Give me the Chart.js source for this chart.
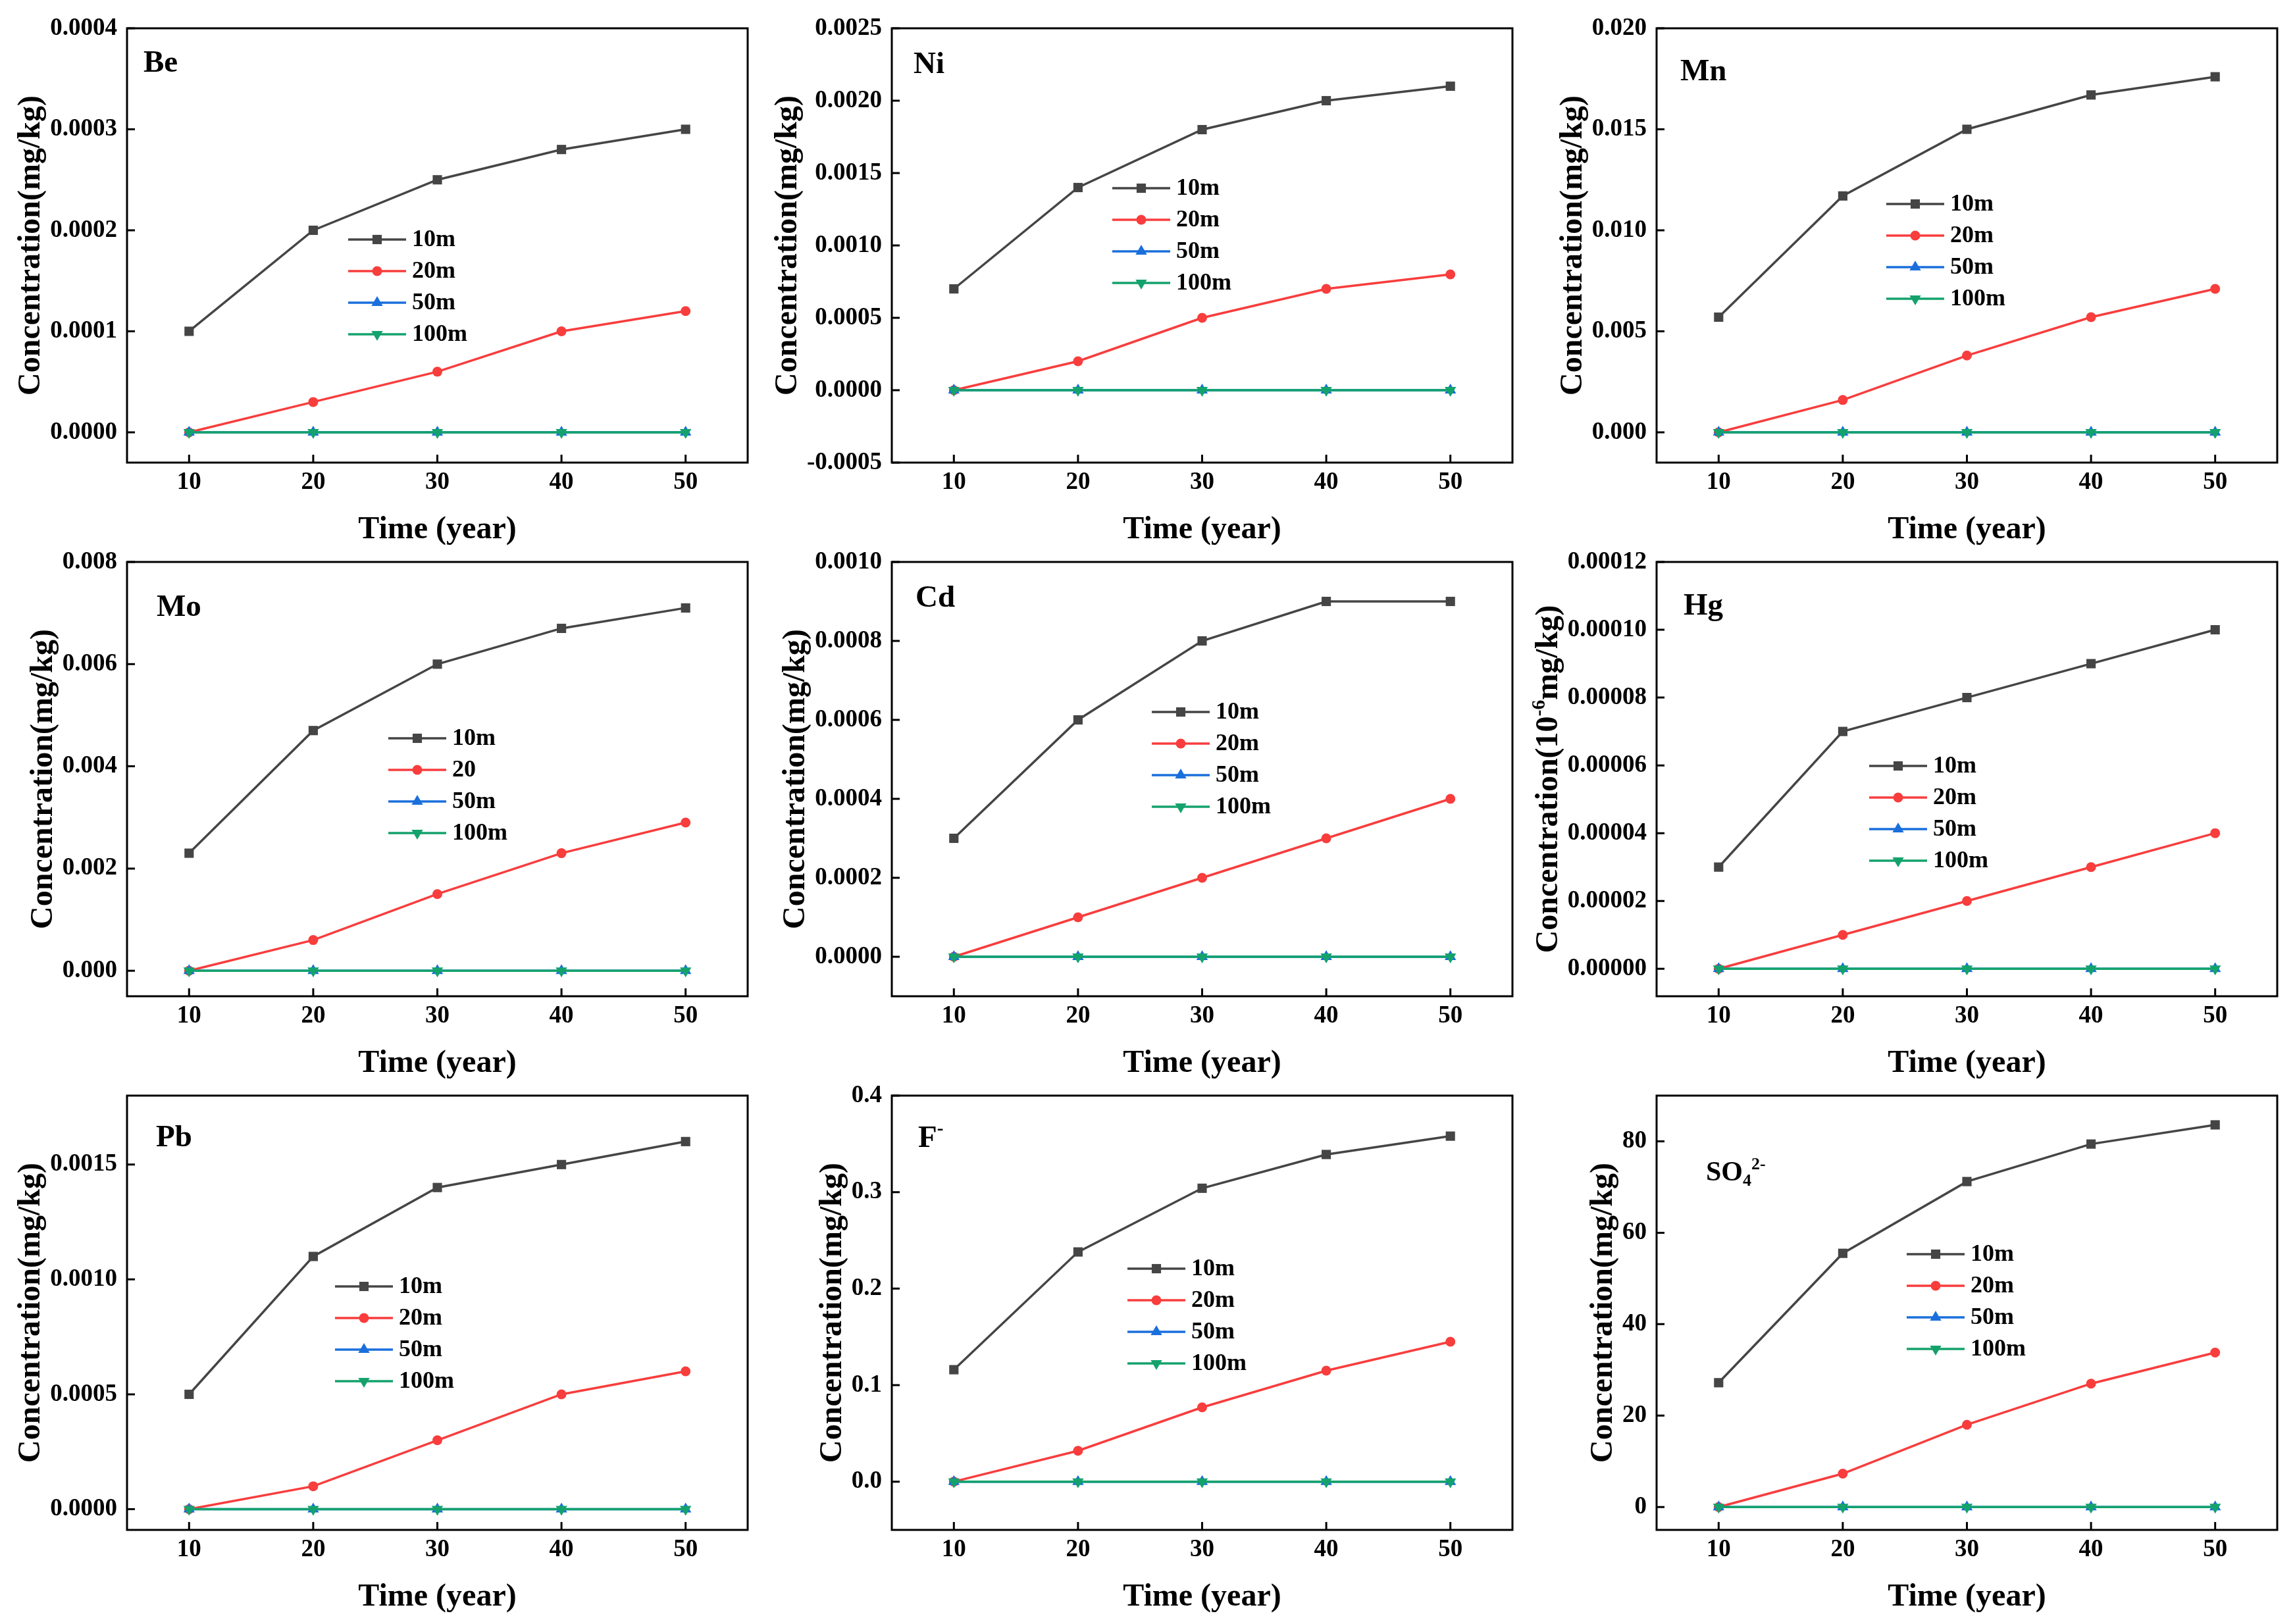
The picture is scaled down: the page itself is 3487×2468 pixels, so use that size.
<!DOCTYPE html>
<html>
<head>
<meta charset="utf-8">
<script src="https://cdn.jsdelivr.net/npm/chart.js@4.4.1/dist/chart.umd.min.js"></script>
<style>
  html, body { margin: 0; padding: 0; background: #fff; }
  #page { position: relative; width: 3487px; height: 2468px; overflow: hidden; }
  .panel { position: absolute; width: 1160px; height: 840px; }
</style>
</head>
<body>
<div id="page"></div>
<script>
// x values and labels
const years = [10, 20, 30, 40, 50];
const xTickLabels = ['10', '20', '30', '40', '50'];
const depthNames = ['10m', '20m', '50m', '100m'];
const depthNamesMo = ['10m', '20', '50m', '100m'];

// Be
const be10m = [0.0001, 0.0002, 0.00025, 0.00028, 0.0003];
const be20m = [0, 0.00003, 0.00006, 0.0001, 0.00012];
const be50m = [0, 0, 0, 0, 0];
const be100m = [0, 0, 0, 0, 0];
const beTicks = ['0.0000', '0.0001', '0.0002', '0.0003', '0.0004'];

// Ni
const ni10m = [0.0007, 0.0014, 0.0018, 0.0020, 0.0021];
const ni20m = [0, 0.0002, 0.0005, 0.0007, 0.0008];
const ni50m = [0, 0, 0, 0, 0];
const ni100m = [0, 0, 0, 0, 0];
const niTicks = ['-0.0005', '0.0000', '0.0005', '0.0010', '0.0015', '0.0020', '0.0025'];

// Mn
const mn10m = [0.0057, 0.0117, 0.0150, 0.0167, 0.0176];
const mn20m = [0, 0.0016, 0.0038, 0.0057, 0.0071];
const mn50m = [0, 0, 0, 0, 0];
const mn100m = [0, 0, 0, 0, 0];
const mnTicks = ['0.000', '0.005', '0.010', '0.015', '0.020'];

// Mo
const mo10m = [0.0023, 0.0047, 0.0060, 0.0067, 0.0071];
const mo20m = [0, 0.0006, 0.0015, 0.0023, 0.0029];
const mo50m = [0, 0, 0, 0, 0];
const mo100m = [0, 0, 0, 0, 0];
const moTicks = ['0.000', '0.002', '0.004', '0.006', '0.008'];

// Cd
const cd10m = [0.0003, 0.0006, 0.0008, 0.0009, 0.0009];
const cd20m = [0, 0.0001, 0.0002, 0.0003, 0.0004];
const cd50m = [0, 0, 0, 0, 0];
const cd100m = [0, 0, 0, 0, 0];
const cdTicks = ['0.0000', '0.0002', '0.0004', '0.0006', '0.0008', '0.0010'];

// Hg
const hg10m = [0.00003, 0.00007, 0.00008, 0.00009, 0.0001];
const hg20m = [0, 0.00001, 0.00002, 0.00003, 0.00004];
const hg50m = [0, 0, 0, 0, 0];
const hg100m = [0, 0, 0, 0, 0];
const hgTicks = ['0.00000', '0.00002', '0.00004', '0.00006', '0.00008', '0.00010', '0.00012'];

// Pb
const pb10m = [0.0005, 0.0011, 0.0014, 0.0015, 0.0016];
const pb20m = [0, 0.0001, 0.0003, 0.0005, 0.0006];
const pb50m = [0, 0, 0, 0, 0];
const pb100m = [0, 0, 0, 0, 0];
const pbTicks = ['0.0000', '0.0005', '0.0010', '0.0015'];

// F-
const f10m = [0.116, 0.238, 0.304, 0.339, 0.358];
const f20m = [0, 0.032, 0.077, 0.115, 0.145];
const f50m = [0, 0, 0, 0, 0];
const f100m = [0, 0, 0, 0, 0];
const fTicks = ['0.0', '0.1', '0.2', '0.3', '0.4'];

// SO4 2-
const so410m = [27.2, 55.5, 71.2, 79.4, 83.6];
const so420m = [0, 7.3, 18.0, 27.0, 33.8];
const so450m = [0, 0, 0, 0, 0];
const so4100m = [0, 0, 0, 0, 0];
const so4Ticks = ['0', '20', '40', '60', '80'];

const FONT = "'Liberation Serif', 'Times New Roman', serif";
const yTitleMg = [['Concentration(mg/kg)', '']];
const yTitleHg = [['Concentration(10', ''], ['-6', 'sup'], ['mg/kg)', '']];

// plot area: left/top in page px, size 943 x 660
const colLeft = [193, 1355, 2517];
const rowTop = [43, 854, 1665];

const panels = [
  { col: 0, row: 0, label: [['Be', '']], labelPos: [25, 50], series: [be10m, be20m, be50m, be100m], names: depthNames, ticks: beTicks, min: -0.00003, max: 0.0004, legend: [336, 321], yTitle: yTitleMg },
  { col: 1, row: 0, label: [['Ni', '']], labelPos: [33, 52], series: [ni10m, ni20m, ni50m, ni100m], names: depthNames, ticks: niTicks, min: -0.0005, max: 0.0025, legend: [335, 243], yTitle: yTitleMg },
  { col: 2, row: 0, label: [['Mn', '']], labelPos: [36, 63], series: [mn10m, mn20m, mn50m, mn100m], names: depthNames, ticks: mnTicks, min: -0.0015, max: 0.020, legend: [349, 267], yTitle: yTitleMg },
  { col: 0, row: 1, label: [['Mo', '']], labelPos: [45, 66], series: [mo10m, mo20m, mo50m, mo100m], names: depthNamesMo, ticks: moTicks, min: -0.0005, max: 0.008, legend: [397, 268], yTitle: yTitleMg },
  { col: 1, row: 1, label: [['Cd', '']], labelPos: [36, 52], series: [cd10m, cd20m, cd50m, cd100m], names: depthNames, ticks: cdTicks, min: -0.0001, max: 0.0010, legend: [395, 228], yTitle: yTitleMg },
  { col: 2, row: 1, label: [['Hg', '']], labelPos: [41, 64], series: [hg10m, hg20m, hg50m, hg100m], names: depthNames, ticks: hgTicks, min: -0.0000081, max: 0.00012, legend: [323, 310], yTitle: yTitleHg },
  { col: 0, row: 2, label: [['Pb', '']], labelPos: [44, 61], series: [pb10m, pb20m, pb50m, pb100m], names: depthNames, ticks: pbTicks, min: -0.00009, max: 0.0018, legend: [316, 290], yTitle: yTitleMg },
  { col: 1, row: 2, label: [['F', ''], ['-', 'sup']], labelPos: [40, 62], series: [f10m, f20m, f50m, f100m], names: depthNames, ticks: fTicks, min: -0.05, max: 0.4, legend: [358, 263], yTitle: yTitleMg },
  { col: 2, row: 2, label: [['SO', ''], ['4', 'sub'], ['2-', 'sup']], labelPos: [75, 115], labelSize: 42, series: [so410m, so420m, so450m, so4100m], names: depthNames, ticks: so4Ticks, min: -5, max: 90, legend: [380, 241], yTitle: yTitleMg },
];

const seriesStyle = [
  { color: '#454545', point: 'rect', radius: 10, rotation: 0 },
  { color: '#f83d3d', point: 'circle', radius: 7.5, rotation: 0 },
  { color: '#1a6fdc', point: 'triangle', radius: 10, rotation: 0 },
  { color: '#14a26c', point: 'triangle', radius: 10, rotation: 180 },
];

// text with simple sub/superscripts
function richWidth(ctx, parts, size) {
  let w = 0;
  parts.forEach(([t, kind]) => {
    const s = kind ? size * 0.62 : size;
    ctx.font = 'bold ' + s + 'px ' + FONT;
    w += ctx.measureText(t).width;
  });
  return w;
}

function drawRich(ctx, parts, x, baseline, size) {
  let cx = x;
  parts.forEach(([t, kind]) => {
    const s = kind ? size * 0.62 : size;
    ctx.font = 'bold ' + s + 'px ' + FONT;
    let dy = 0;
    if (kind === 'sup') dy = -size * 0.4;
    if (kind === 'sub') dy = size * 0.2;
    ctx.fillText(t, cx, baseline + dy);
    cx += ctx.measureText(t).width;
  });
}

function drawMarker(ctx, style, x, y) {
  const r = style.radius;
  ctx.fillStyle = style.color;
  ctx.beginPath();
  if (style.point === 'rect') {
    const h = r * Math.SQRT1_2;
    ctx.rect(x - h, y - h, 2 * h, 2 * h);
  } else if (style.point === 'circle') {
    ctx.arc(x, y, r, 0, Math.PI * 2);
  } else {
    const rad = style.rotation * Math.PI / 180;
    for (let k = 0; k < 3; k++) {
      const a = rad + k * 2 * Math.PI / 3;
      const px = x + Math.sin(a) * r, py = y - Math.cos(a) * r;
      if (k === 0) ctx.moveTo(px, py); else ctx.lineTo(px, py);
    }
    ctx.closePath();
  }
  ctx.fill();
}

const decoPlugin = {
  id: 'deco',
  afterDraw(chart, args, opts) {
    const ctx = chart.ctx;
    const a = chart.chartArea;
    const xs = chart.scales.x, ys = chart.scales.y;
    ctx.save();

    // frame and inward ticks
    ctx.strokeStyle = '#000';
    ctx.lineWidth = 3;
    ctx.strokeRect(a.left, a.top, a.right - a.left, a.bottom - a.top);
    ctx.beginPath();
    xs.ticks.forEach(t => {
      const px = xs.getPixelForValue(t.value);
      ctx.moveTo(px, a.bottom);
      ctx.lineTo(px, a.bottom - 12);
    });
    ys.ticks.forEach(t => {
      const py = ys.getPixelForValue(t.value);
      ctx.moveTo(a.left, py);
      ctx.lineTo(a.left + 12, py);
    });
    ctx.stroke();

    ctx.fillStyle = '#000';
    ctx.textBaseline = 'alphabetic';
    ctx.textAlign = 'left';

    // x title
    const xt = [['Time (year)', '']];
    const xw = richWidth(ctx, xt, 48);
    drawRich(ctx, xt, (a.left + a.right) / 2 - xw / 2, a.bottom + 100 + 15, 48);

    // y title, placed left of the widest tick label
    ctx.font = 'bold 37px ' + FONT;
    let widest = 0;
    ys.ticks.forEach(t => { widest = Math.max(widest, ctx.measureText(t.label).width); });
    const cx = a.left - 15 - widest - 28;
    const yw = richWidth(ctx, opts.yTitle, 48);
    ctx.save();
    ctx.translate(cx, (a.top + a.bottom) / 2);
    ctx.rotate(-Math.PI / 2);
    ctx.fillStyle = '#000';
    drawRich(ctx, opts.yTitle, -yw / 2, 12, 48);
    ctx.restore();

    // panel label
    const ls = opts.labelSize || 47;
    drawRich(ctx, opts.label, a.left + opts.labelPos[0], a.top + opts.labelPos[1] + ls * 0.33, ls);

    // legend
    const lx = a.left + opts.legend[0];
    chart.data.datasets.forEach((ds, i) => {
      const st = seriesStyle[i];
      const ly = a.top + opts.legend[1] + i * 48;
      ctx.strokeStyle = st.color;
      ctx.lineWidth = 3.5;
      ctx.beginPath();
      ctx.moveTo(lx, ly);
      ctx.lineTo(lx + 88, ly);
      ctx.stroke();
      drawMarker(ctx, st, lx + 44, ly);
      ctx.fillStyle = '#000';
      ctx.font = 'bold 36px ' + FONT;
      ctx.textBaseline = 'middle';
      ctx.fillText(ds.label, lx + 97, ly + 1);
      ctx.textBaseline = 'alphabetic';
    });
    ctx.restore();
  }
};

const page = document.getElementById('page');

panels.forEach(p => {
  const box = document.createElement('div');
  box.className = 'panel';
  box.style.left = (colLeft[p.col] - 193) + 'px';
  box.style.top = (rowTop[p.row] - 43) + 'px';
  const canvas = document.createElement('canvas');
  canvas.width = 1160;
  canvas.height = 840;
  canvas.style.width = '1160px';
  canvas.style.height = '840px';
  box.appendChild(canvas);
  page.appendChild(box);

  const datasets = p.series.map((vals, i) => {
    const st = seriesStyle[i];
    return {
      label: p.names[i],
      data: years.map((x, k) => ({ x: x, y: vals[k] })),
      borderColor: st.color,
      backgroundColor: st.color,
      borderWidth: 3.5,
      pointStyle: st.point,
      pointRadius: st.radius,
      pointRotation: st.rotation,
      pointBorderWidth: 0,
      pointBackgroundColor: st.color,
      tension: 0,
      order: 4 - i,
    };
  });

  const tickFont = { family: FONT, size: 37, weight: 'bold' };

  new Chart(canvas.getContext('2d'), {
    type: 'line',
    data: { datasets: datasets },
    options: {
      responsive: false,
      animation: false,
      devicePixelRatio: 1,
      layout: { padding: { left: 0, top: 43, right: 24, bottom: 0 } },
      plugins: {
        legend: { display: false },
        tooltip: { enabled: false },
        deco: { label: p.label, labelPos: p.labelPos, labelSize: p.labelSize, legend: p.legend, yTitle: p.yTitle },
      },
      scales: {
        x: {
          type: 'linear',
          min: 5,
          max: 55,
          grid: { display: false, drawTicks: false },
          border: { display: false },
          afterBuildTicks: s => { s.ticks = years.map(v => ({ value: v })); },
          afterFit: s => { s.height = 137; },
          ticks: { padding: 8, color: '#000', font: tickFont, callback: (v, i) => xTickLabels[i] },
        },
        y: {
          type: 'linear',
          min: p.min,
          max: p.max,
          grid: { display: false, drawTicks: false },
          border: { display: false },
          afterBuildTicks: s => { s.ticks = p.ticks.map(t => ({ value: parseFloat(t) })); },
          afterFit: s => { s.width = 193; },
          ticks: { padding: 15, color: '#000', font: tickFont, callback: (v, i) => p.ticks[i] },
        },
      },
    },
    plugins: [decoPlugin],
  });
});
</script>
</body>
</html>
